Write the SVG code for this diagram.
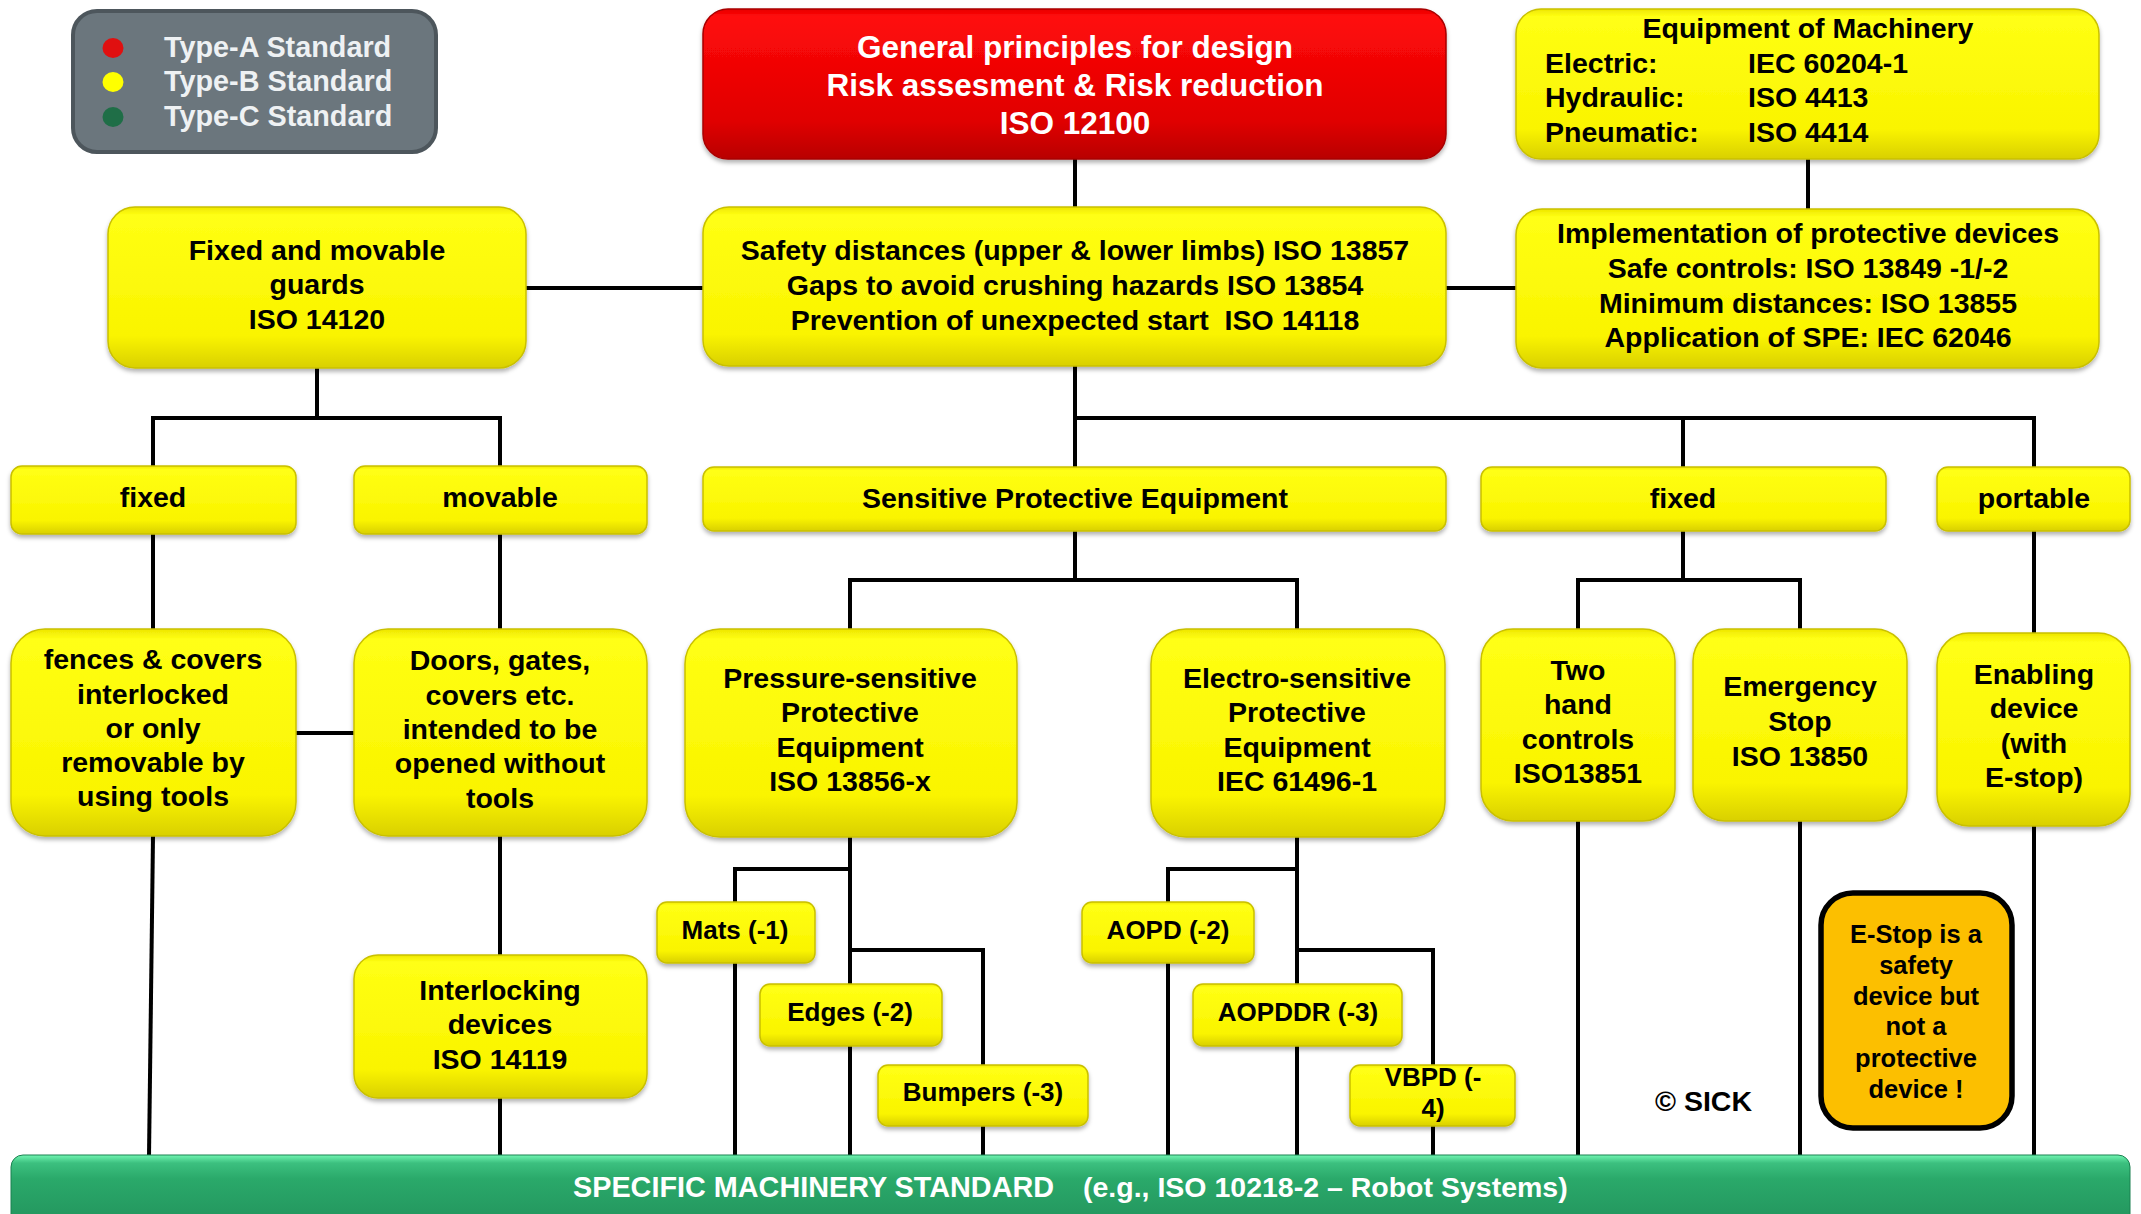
<svg xmlns="http://www.w3.org/2000/svg" width="2141" height="1214" viewBox="0 0 2141 1214">
  <defs>
    <linearGradient id="gYellow" x1="0" y1="0" x2="0" y2="1">
      <stop offset="0" stop-color="#eee600"/>
      <stop offset="0.05" stop-color="#ffff14"/>
      <stop offset="0.8" stop-color="#faf400"/>
      <stop offset="1" stop-color="#d9d000"/>
    </linearGradient>
    <linearGradient id="gRed" x1="0" y1="0" x2="0" y2="1">
      <stop offset="0" stop-color="#e80000"/>
      <stop offset="0.05" stop-color="#ff0a0a"/>
      <stop offset="0.75" stop-color="#e00000"/>
      <stop offset="1" stop-color="#b80000"/>
    </linearGradient>
    <linearGradient id="gGreen" x1="0" y1="0" x2="0" y2="1">
      <stop offset="0" stop-color="#72f5b2"/>
      <stop offset="0.1" stop-color="#3cc07f"/>
      <stop offset="0.3" stop-color="#2aa96a"/>
      <stop offset="1" stop-color="#218f5a"/>
    </linearGradient>
    <filter id="shadow" x="-5%" y="-5%" width="110%" height="125%">
      <feDropShadow dx="0" dy="3" stdDeviation="2" flood-color="#000" flood-opacity="0.3"/>
    </filter>
  </defs>
  <style>
    .conn path { stroke: #000; stroke-width: 4; fill: none; stroke-linejoin: miter; }
    .yb { fill: url(#gYellow); stroke: #c9c000; stroke-width: 1.5; filter: url(#shadow); }
    .rb { fill: url(#gRed); stroke: #a80000; stroke-width: 1.5; filter: url(#shadow); }
    text { font-family: "Liberation Sans", Arial, Helvetica, sans-serif; font-weight: bold; }
    .t { font-size: 28.5px; text-anchor: middle; fill: #000; }
    .s { font-size: 26px; text-anchor: middle; fill: #000; }
    .w { font-size: 31.5px; text-anchor: middle; fill: #ffffff; }
    .l { font-size: 28.5px; fill: #000; }
    .lg { font-size: 28.8px; fill: #eef1f3; }
    .n { font-size: 25.5px; text-anchor: middle; fill: #000; }
  </style>

  <!-- connectors -->
  <g id="connectors" class="conn">
    <path d="M1075,159 V207"/>
    <path d="M526,288 H703"/>
    <path d="M1445,288 H1516"/>
    <path d="M1808,159 V209"/>
    <path d="M317,368 V418"/>
    <path d="M153,466 V418 H500 V466"/>
    <path d="M153,534 V629"/>
    <path d="M500,534 V629"/>
    <path d="M296,733 H354"/>
    <path d="M153,836 L149,1157"/>
    <path d="M500,836 V955"/>
    <path d="M500,1098 V1157"/>
    <path d="M1075,366 V467"/>
    <path d="M1075,418 H2034 V467"/>
    <path d="M1683,418 V467"/>
    <path d="M1075,531 V580"/>
    <path d="M850,629 V580 H1297 V629"/>
    <path d="M850,837 V1157"/>
    <path d="M850,869 H735 V902"/>
    <path d="M735,963 V1157"/>
    <path d="M850,950 H983 V1066"/>
    <path d="M983,1125 V1157"/>
    <path d="M1297,837 V1157"/>
    <path d="M1297,869 H1168 V902"/>
    <path d="M1168,963 V1157"/>
    <path d="M1297,950 H1433 V1066"/>
    <path d="M1433,1125 V1157"/>
    <path d="M1683,531 V580"/>
    <path d="M1578,629 V580 H1800 V629"/>
    <path d="M1578,821 V1157"/>
    <path d="M1800,821 V1157"/>
    <path d="M2034,531 V633"/>
    <path d="M2034,826 V1157"/>
  </g>

  <!-- legend -->
  <g id="legend">
    <rect x="73" y="11" width="363" height="141" rx="24" fill="#6b767d" stroke="#4d565c" stroke-width="4"/>
    <ellipse cx="113" cy="48" rx="10.5" ry="10" fill="#e01010"/>
    <ellipse cx="113" cy="82" rx="10.5" ry="10" fill="#ffff00"/>
    <ellipse cx="113" cy="117" rx="10.5" ry="10" fill="#1f6e47"/>
    <text class="lg" x="164" y="57">Type-A Standard</text>
    <text class="lg" x="164" y="91">Type-B Standard</text>
    <text class="lg" x="164" y="126">Type-C Standard</text>
  </g>

  <!-- type A -->
  <g id="iso12100">
    <rect class="rb" x="703" y="9" width="743" height="150" rx="25"/>
    <text class="w" x="1075" y="58">General principles for design</text>
    <text class="w" x="1075" y="96">Risk assesment &amp; Risk reduction</text>
    <text class="w" x="1075" y="134">ISO 12100</text>
  </g>

  <g id="equipment">
    <rect class="yb" x="1516" y="9" width="583" height="150" rx="25"/>
    <text class="t" x="1808" y="38">Equipment of Machinery</text>
    <text class="l" x="1545" y="73">Electric:</text>
    <text class="l" x="1748" y="73">IEC 60204-1</text>
    <text class="l" x="1545" y="107">Hydraulic:</text>
    <text class="l" x="1748" y="107">ISO 4413</text>
    <text class="l" x="1545" y="142">Pneumatic:</text>
    <text class="l" x="1748" y="142">ISO 4414</text>
  </g>

  <g id="guards">
    <rect class="yb" x="108" y="207" width="418" height="161" rx="27"/>
    <text class="t" x="317" y="260">Fixed and movable</text>
    <text class="t" x="317" y="294">guards</text>
    <text class="t" x="317" y="329">ISO 14120</text>
  </g>

  <g id="safety">
    <rect class="yb" x="703" y="207" width="743" height="159" rx="26"/>
    <text class="t" x="1075" y="260">Safety distances (upper &amp; lower limbs) ISO 13857</text>
    <text class="t" x="1075" y="295">Gaps to avoid crushing hazards ISO 13854</text>
    <text class="t" x="1075" y="330" style="white-space:pre">Prevention of unexpected start  ISO 14118</text>
  </g>

  <g id="implementation">
    <rect class="yb" x="1516" y="209" width="583" height="159" rx="26"/>
    <text class="t" x="1808" y="243">Implementation of protective devices</text>
    <text class="t" x="1808" y="278">Safe controls: ISO 13849 -1/-2</text>
    <text class="t" x="1808" y="313">Minimum distances: ISO 13855</text>
    <text class="t" x="1808" y="347">Application of SPE: IEC 62046</text>
  </g>

  <!-- second row -->
  <g id="fixed-guard">
    <rect class="yb" x="11" y="466" width="285" height="68" rx="11"/>
    <text class="t" x="153" y="507">fixed</text>
  </g>
  <g id="movable-guard">
    <rect class="yb" x="354" y="466" width="293" height="68" rx="11"/>
    <text class="t" x="500" y="507">movable</text>
  </g>
  <g id="spe">
    <rect class="yb" x="703" y="467" width="743" height="64" rx="11"/>
    <text class="t" x="1075" y="508">Sensitive Protective Equipment</text>
  </g>
  <g id="fixed-device">
    <rect class="yb" x="1481" y="467" width="405" height="64" rx="11"/>
    <text class="t" x="1683" y="508">fixed</text>
  </g>
  <g id="portable-device">
    <rect class="yb" x="1937" y="467" width="193" height="64" rx="11"/>
    <text class="t" x="2034" y="508">portable</text>
  </g>

  <!-- third row -->
  <g id="fences">
    <rect class="yb" x="11" y="629" width="285" height="207" rx="34"/>
    <text class="t" x="153" y="669">fences &amp; covers</text>
    <text class="t" x="153" y="704">interlocked</text>
    <text class="t" x="153" y="738">or only</text>
    <text class="t" x="153" y="772">removable by</text>
    <text class="t" x="153" y="806">using tools</text>
  </g>
  <g id="doors">
    <rect class="yb" x="354" y="629" width="293" height="207" rx="34"/>
    <text class="t" x="500" y="670">Doors, gates,</text>
    <text class="t" x="500" y="705">covers etc.</text>
    <text class="t" x="500" y="739">intended to be</text>
    <text class="t" x="500" y="773">opened without</text>
    <text class="t" x="500" y="808">tools</text>
  </g>
  <g id="pressure">
    <rect class="yb" x="685" y="629" width="332" height="208" rx="35"/>
    <text class="t" x="850" y="688">Pressure-sensitive</text>
    <text class="t" x="850" y="722">Protective</text>
    <text class="t" x="850" y="757">Equipment</text>
    <text class="t" x="850" y="791">ISO 13856-x</text>
  </g>
  <g id="electro">
    <rect class="yb" x="1151" y="629" width="294" height="208" rx="35"/>
    <text class="t" x="1297" y="688">Electro-sensitive</text>
    <text class="t" x="1297" y="722">Protective</text>
    <text class="t" x="1297" y="757">Equipment</text>
    <text class="t" x="1297" y="791">IEC 61496-1</text>
  </g>
  <g id="two-hand">
    <rect class="yb" x="1481" y="629" width="194" height="192" rx="32"/>
    <text class="t" x="1578" y="680">Two</text>
    <text class="t" x="1578" y="714">hand</text>
    <text class="t" x="1578" y="749">controls</text>
    <text class="t" x="1578" y="783">ISO13851</text>
  </g>
  <g id="emergency-stop">
    <rect class="yb" x="1693" y="629" width="214" height="192" rx="32"/>
    <text class="t" x="1800" y="696">Emergency</text>
    <text class="t" x="1800" y="731">Stop</text>
    <text class="t" x="1800" y="766">ISO 13850</text>
  </g>
  <g id="enabling">
    <rect class="yb" x="1937" y="633" width="193" height="193" rx="32"/>
    <text class="t" x="2034" y="684">Enabling</text>
    <text class="t" x="2034" y="718">device</text>
    <text class="t" x="2034" y="753">(with</text>
    <text class="t" x="2034" y="787">E-stop)</text>
  </g>

  <!-- lower items -->
  <g id="interlocking">
    <rect class="yb" x="354" y="955" width="293" height="143" rx="24"/>
    <text class="t" x="500" y="1000">Interlocking</text>
    <text class="t" x="500" y="1034">devices</text>
    <text class="t" x="500" y="1069">ISO 14119</text>
  </g>
  <g id="mats">
    <rect class="yb" x="657" y="902" width="158" height="61" rx="10"/>
    <text class="s" x="735" y="939">Mats (-1)</text>
  </g>
  <g id="edges">
    <rect class="yb" x="760" y="984" width="182" height="62" rx="10"/>
    <text class="s" x="850" y="1021">Edges (-2)</text>
  </g>
  <g id="bumpers">
    <rect class="yb" x="878" y="1065" width="210" height="61" rx="10"/>
    <text class="s" x="983" y="1101">Bumpers (-3)</text>
  </g>
  <g id="aopd">
    <rect class="yb" x="1082" y="902" width="172" height="61" rx="10"/>
    <text class="s" x="1168" y="939">AOPD (-2)</text>
  </g>
  <g id="aopddr">
    <rect class="yb" x="1193" y="984" width="209" height="62" rx="10"/>
    <text class="s" x="1298" y="1021">AOPDDR (-3)</text>
  </g>
  <g id="vbpd">
    <rect class="yb" x="1350" y="1065" width="165" height="61" rx="10"/>
    <text class="s" x="1433" y="1086">VBPD (-</text>
    <text class="s" x="1433" y="1117">4)</text>
  </g>

  <g id="estop-note">
    <rect x="1821" y="893" width="191" height="235" rx="32" fill="#fcbf00" stroke="#000" stroke-width="5.5"/>
    <text class="n" x="1916" y="943">E-Stop is a</text>
    <text class="n" x="1916" y="974">safety</text>
    <text class="n" x="1916" y="1005">device but</text>
    <text class="n" x="1916" y="1035">not a</text>
    <text class="n" x="1916" y="1067">protective</text>
    <text class="n" x="1916" y="1098">device !</text>
  </g>

  <text id="copyright" x="1655" y="1111" font-size="28.5" fill="#000">© SICK</text>

  <!-- type C -->
  <g id="machinery-standard">
    <rect x="11" y="1155" width="2119" height="80" rx="12" fill="url(#gGreen)" stroke="#1b8050" stroke-width="1"/>
    <text x="573" y="1197" font-size="28.8" fill="#ffffff">SPECIFIC MACHINERY STANDARD</text>
    <text x="1083" y="1197" font-size="28.5" fill="#ffffff">(e.g., ISO 10218-2 – Robot Systems)</text>
  </g>
</svg>
